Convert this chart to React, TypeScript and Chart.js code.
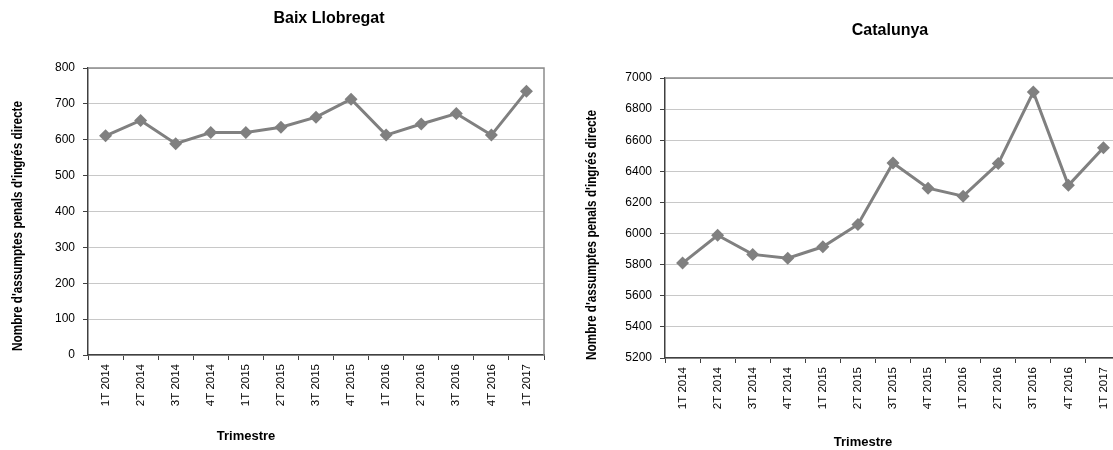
import React, { useEffect, useRef } from "react";
import { Chart, registerables } from "chart.js";

Chart.register(...registerables);

const categories = [
  "1T 2014", "2T 2014", "3T 2014", "4T 2014",
  "1T 2015", "2T 2015", "3T 2015", "4T 2015",
  "1T 2016", "2T 2016", "3T 2016", "4T 2016",
  "1T 2017",
];

const baixLlobregatValues = [611, 654, 589, 620, 620, 635, 663, 713, 613, 644, 673, 613, 735];
const catalunyaValues = [5810, 5989, 5866, 5842, 5915, 6058, 6454, 6292, 6240, 6450, 6910, 6310, 6552];

const baixTicks = { min: 0, max: 800, step: 100 };
const catTicks = { min: 5200, max: 7000, step: 200 };

const yAxisTitle = "Nombre d'assumptes penals d'ingrés directe";
const xAxisTitle = "Trimestre";
const baixTitle = "Baix Llobregat";
const catTitle = "Catalunya";

const SANS = '"Liberation Sans", Arial, sans-serif';

const extraPlugin = {
  id: "extraText",
  beforeDatasetsDraw(chart: any) {
    const { ctx, chartArea } = chart;
    ctx.save();
    ctx.strokeStyle = "#8c8c8c";
    ctx.lineWidth = 1.5;
    ctx.beginPath();
    ctx.moveTo(chartArea.left, chartArea.top);
    ctx.lineTo(chartArea.right, chartArea.top);
    ctx.lineTo(chartArea.right, chartArea.bottom);
    ctx.stroke();
    ctx.restore();
  },
  afterDraw(chart: any, _args: any, opts: any) {
    const ctx = chart.ctx;
    for (const t of opts.items || []) {
      ctx.save();
      ctx.font = t.font;
      ctx.fillStyle = "#000";
      ctx.textAlign = "center";
      ctx.textBaseline = "middle";
      ctx.translate(t.x, t.y);
      if (t.rotate) ctx.rotate(-Math.PI / 2);
      if (t.sx) ctx.scale(t.sx, 1);
      ctx.fillText(t.text, 0, 0);
      ctx.restore();
    }
  },
};

type Layout = {
  width: number;
  yWidth: number;
  xHeight: number;
  top: number;
  right: number;
  items: any[];
};

function makeConfig(values: number[], ticks: { min: number; max: number; step: number }, layout: Layout): any {
  return {
    type: "line",
    data: {
      labels: categories,
      datasets: [
        {
          data: values,
          borderColor: "#808080",
          backgroundColor: "#808080",
          borderWidth: 3,
          pointStyle: "rectRot",
          pointRadius: 6.5,
          pointBorderWidth: 0,
          pointBackgroundColor: "#808080",
          tension: 0,
        },
      ],
    },
    options: {
      responsive: false,
      animation: false,
      layout: { padding: { left: 0, top: layout.top, right: layout.right, bottom: 0 } },
      plugins: {
        legend: { display: false },
        title: { display: false },
        tooltip: { enabled: false },
        extraText: { items: layout.items },
      },
      scales: {
        x: {
          type: "category",
          offset: true,
          grid: {
            offset: true,
            drawOnChartArea: false,
            drawTicks: true,
            tickLength: 5,
            tickColor: "#404040",
            tickWidth: 1,
          },
          border: { display: true, color: "#404040", width: 1.5 },
          ticks: {
            autoSkip: false,
            minRotation: 90,
            maxRotation: 90,
            padding: 4,
            color: "#000",
            font: { family: SANS, size: 11.5 },
          },
          afterFit(scale: any) {
            scale.height = layout.xHeight;
          },
        },
        y: {
          type: "linear",
          min: ticks.min,
          max: ticks.max,
          ticks: {
            stepSize: ticks.step,
            padding: 8,
            color: "#000",
            font: { family: SANS, size: 12 },
            callback: (v: any) => String(v),
          },
          grid: {
            color: "#c8c8c8",
            lineWidth: 1,
            borderDash: [2, 2],
            tickLength: 5,
            tickColor: "#404040",
            tickBorderDash: [],
            tickWidth: 1,
          },
          border: { display: true, color: "#404040", width: 1.5 },
          afterFit(scale: any) {
            scale.width = layout.yWidth;
          },
        },
      },
    },
    plugins: [extraPlugin],
  };
}

function LineChart({ values, ticks, layout, left }: { values: number[]; ticks: any; layout: Layout; left: number }) {
  const ref = useRef<HTMLCanvasElement | null>(null);
  useEffect(() => {
    if (!ref.current) return;
    const chart = new Chart(ref.current, makeConfig(values, ticks, layout));
    return () => chart.destroy();
  }, []);
  return (
    <canvas
      ref={ref}
      width={layout.width}
      height={450}
      style={{ position: "absolute", left, top: 0, width: layout.width, height: 450 }}
    />
  );
}

const leftLayout: Layout = {
  width: 556,
  yWidth: 88,
  xHeight: 95,
  top: 68,
  right: 12,
  items: [
    { text: baixTitle, x: 329, y: 19, font: `bold 16px ${SANS}` },
    { text: yAxisTitle, x: 18.5, y: 226, rotate: true, sx: 0.84, font: `bold 14px ${SANS}` },
    { text: xAxisTitle, x: 246, y: 436, font: `bold 13px ${SANS}` },
  ],
};

const rightLayout: Layout = {
  width: 580,
  yWidth: 109,
  xHeight: 92,
  top: 78,
  right: 15,
  items: [
    { text: catTitle, x: 334, y: 31, font: `bold 16px ${SANS}` },
    { text: yAxisTitle, x: 36.5, y: 235, rotate: true, sx: 0.84, font: `bold 14px ${SANS}` },
    { text: xAxisTitle, x: 307, y: 442, font: `bold 13px ${SANS}` },
  ],
};

export default function App() {
  return (
    <div style={{ position: "absolute", left: 0, top: 0, width: 1113, height: 450, background: "#fff", overflow: "hidden" }}>
      <LineChart values={baixLlobregatValues} ticks={baixTicks} layout={leftLayout} left={0} />
      <LineChart values={catalunyaValues} ticks={catTicks} layout={rightLayout} left={556} />
    </div>
  );
}
